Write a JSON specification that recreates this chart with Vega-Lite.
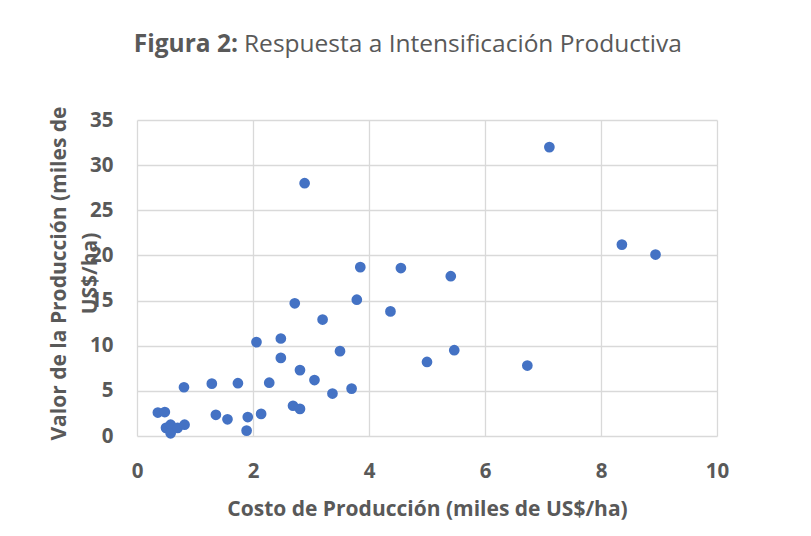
{
  "$schema": "https://vega.github.io/schema/vega-lite/v6.json",
  "autosize": {"type": "none"},
  "padding": {"left": 137, "top": 120, "right": 94, "bottom": 100},
  "width": 580,
  "height": 316,
  "background": "white",
  "title": {
    "text": "Figura 2:",
    "subtitle": "Respuesta a Intensificación Productiva",
    "anchor": "start",
    "frame": "group",
    "align": "left",
    "dx": 107,
    "offset": 48,
    "font": "Open Sans",
    "fontSize": 24.5,
    "fontWeight": "bold",
    "color": "#595959",
    "subtitleFont": "Open Sans",
    "subtitleFontSize": 24.5,
    "subtitleFontWeight": "normal",
    "subtitleColor": "#595959",
    "subtitlePadding": -24.5,
    "encoding": {"align": {"value": "right"}, "dx": {"value": 101}}
  },
  "data": {
    "values": [
      {"costo": 0.36, "valor": 2.6},
      {"costo": 0.48, "valor": 2.65},
      {"costo": 0.50, "valor": 0.9},
      {"costo": 0.58, "valor": 1.25},
      {"costo": 0.58, "valor": 0.3},
      {"costo": 0.70, "valor": 0.9},
      {"costo": 0.82, "valor": 1.25},
      {"costo": 0.81, "valor": 5.4},
      {"costo": 1.36, "valor": 2.35},
      {"costo": 1.56, "valor": 1.85},
      {"costo": 1.91, "valor": 2.1},
      {"costo": 2.14, "valor": 2.45},
      {"costo": 1.89, "valor": 0.6},
      {"costo": 1.29, "valor": 5.8},
      {"costo": 1.74, "valor": 5.85},
      {"costo": 2.28, "valor": 5.9},
      {"costo": 2.69, "valor": 3.35},
      {"costo": 2.81, "valor": 3.0},
      {"costo": 3.06, "valor": 6.2},
      {"costo": 2.81, "valor": 7.3},
      {"costo": 2.48, "valor": 8.65},
      {"costo": 3.37, "valor": 4.7},
      {"costo": 3.70, "valor": 5.25},
      {"costo": 2.06, "valor": 10.4},
      {"costo": 2.48, "valor": 10.8},
      {"costo": 3.50, "valor": 9.4},
      {"costo": 3.20, "valor": 12.9},
      {"costo": 2.72, "valor": 14.7},
      {"costo": 3.79, "valor": 15.1},
      {"costo": 4.37, "valor": 13.8},
      {"costo": 3.85, "valor": 18.7},
      {"costo": 4.55, "valor": 18.6},
      {"costo": 5.41, "valor": 17.7},
      {"costo": 5.00, "valor": 8.2},
      {"costo": 5.47, "valor": 9.5},
      {"costo": 6.73, "valor": 7.8},
      {"costo": 7.11, "valor": 32.0},
      {"costo": 2.89, "valor": 28.0},
      {"costo": 8.36, "valor": 21.2},
      {"costo": 8.94, "valor": 20.1}
    ]
  },
  "mark": {"type": "point", "filled": true, "opacity": 1, "size": 115, "color": "#4472C4"},
  "encoding": {
    "x": {
      "field": "costo",
      "type": "quantitative",
      "scale": {"domain": [0, 10], "nice": false, "zero": true},
      "axis": {
        "values": [0, 2, 4, 6, 8, 10],
        "title": "Costo de Producción (miles de US$/ha)",
        "titleX": 290,
        "titleY": 79,
        "titleAlign": "center",
        "titleBaseline": "alphabetic",
        "labelBaseline": "alphabetic",
        "labelPadding": 41
      }
    },
    "y": {
      "field": "valor",
      "type": "quantitative",
      "scale": {"domain": [0, 35], "nice": false, "zero": true},
      "axis": {
        "values": [0, 5, 10, 15, 20, 25, 30, 35],
        "title": ["Valor de la Producción (miles de", "US$/ha)"],
        "titleX": -78,
        "titleY": 153,
        "titleAngle": 270,
        "titleAlign": "center",
        "titleBaseline": "middle",
        "titleLineHeight": 31,
        "labelPadding": 24,
        "labelBaseline": "middle"
      }
    }
  },
  "config": {
    "view": {"stroke": null},
    "axis": {
      "domain": false,
      "ticks": false,
      "tickSize": 0,
      "grid": true,
      "gridColor": "#d9d9d9",
      "gridWidth": 1.3,
      "labelFont": "Open Sans",
      "labelFontSize": 20.5,
      "labelFontWeight": "bold",
      "labelColor": "#595959",
      "titleFont": "Open Sans",
      "titleFontSize": 21,
      "titleFontWeight": "bold",
      "titleColor": "#595959",
      "labelOverlap": false,
      "labelFlush": false
    }
  }
}
